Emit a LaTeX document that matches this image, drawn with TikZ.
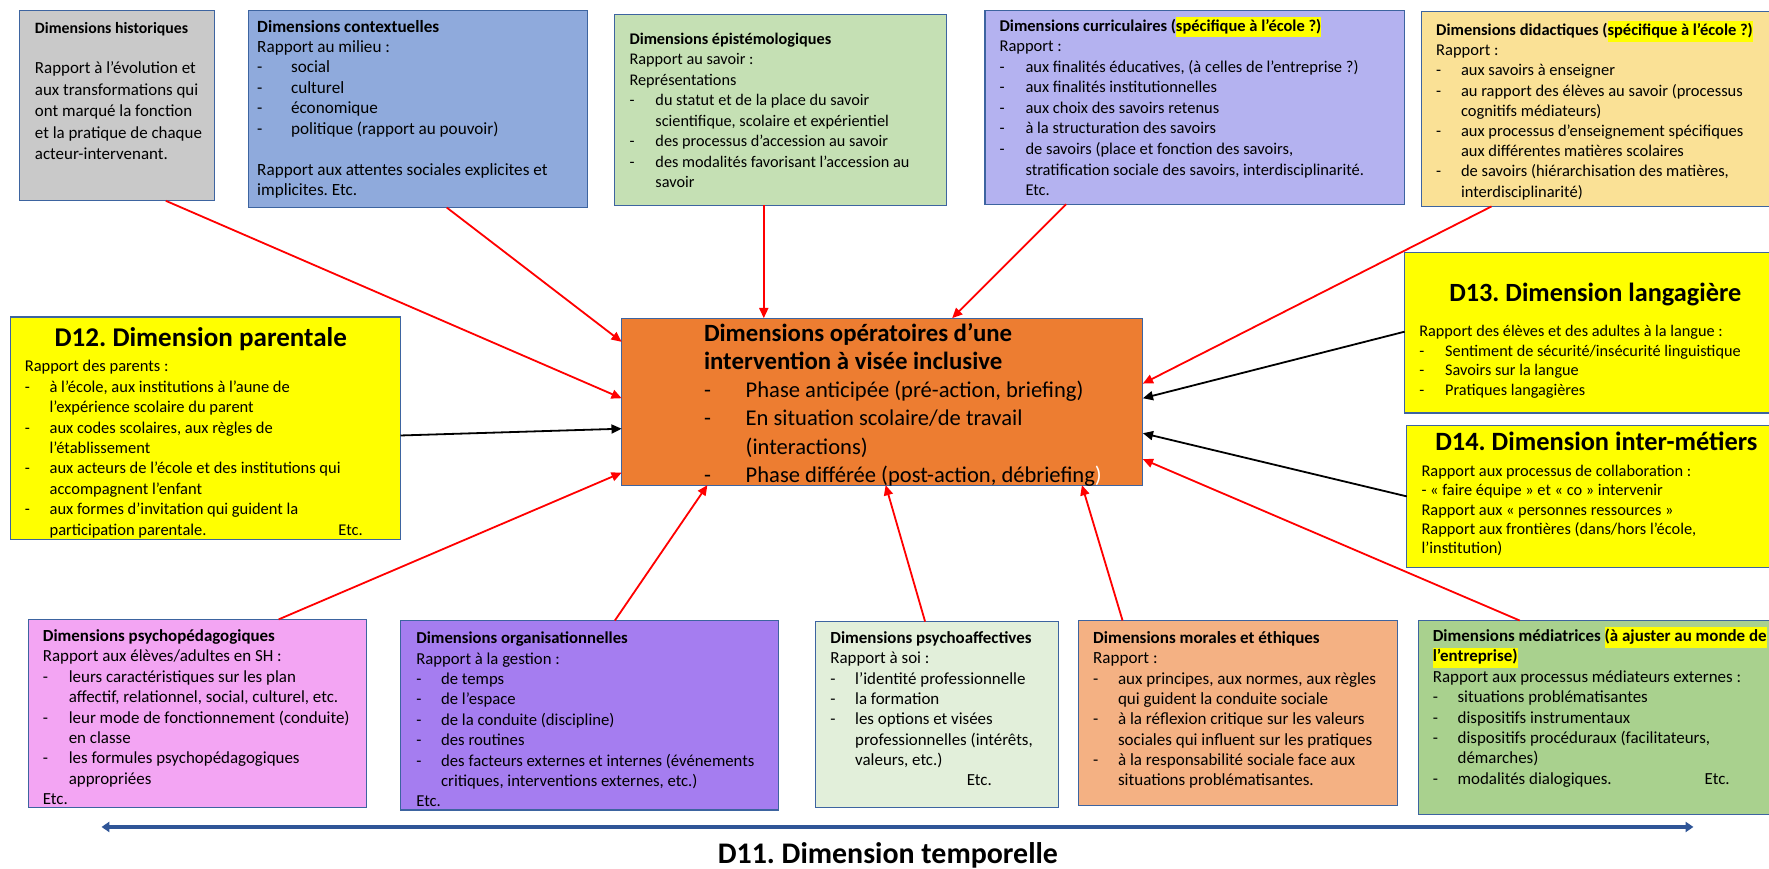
\documentclass[tikz,border=0pt]{standalone}
\usepackage{fontspec}
\setmainfont{Carlito}
\usetikzlibrary{arrows.meta,calc}
\frenchspacing

\definecolor{bordr}{RGB}{61,100,160}
\definecolor{cHist}{RGB}{201,201,201}
\definecolor{cCtx}{RGB}{143,170,220}
\definecolor{cEpi}{RGB}{197,224,180}
\definecolor{cCur}{RGB}{180,178,240}
\definecolor{cDid}{RGB}{250,225,150}
\definecolor{cYel}{RGB}{255,255,0}
\definecolor{cCtr}{RGB}{237,125,49}
\definecolor{cPsp}{RGB}{243,165,243}
\definecolor{cOrg}{RGB}{165,125,240}
\definecolor{cPaf}{RGB}{226,239,218}
\definecolor{cMor}{RGB}{244,177,131}
\definecolor{cMed}{RGB}{169,209,142}
\definecolor{cTime}{RGB}{47,85,151}
\definecolor{hly}{RGB}{255,255,0}

\newlength\dind
\newcommand\dItem{\makebox[\dind][l]{-}}
\newcommand\cItem{\hspace*{\dind}}
\newcommand\hiLite[1]{{\setlength{\fboxsep}{0pt}\colorbox{hly}{\strut #1}}}
\newcommand\fSz[2]{\fontsize{#1pt}{#2pt}\selectfont}

\begin{document}
\begin{tikzpicture}[x=1pt,y=-1pt,
  box/.style={draw=bordr, line width=1.1pt, anchor=north west, inner sep=0pt, outer sep=0pt},
  txt/.style={anchor=base west, inner sep=0pt, outer sep=0pt, text=black},
  ttl/.style={anchor=base, inner sep=0pt, outer sep=0pt},
  rarr/.style={draw=red, line width=1.6pt, -{Triangle[length=9pt,width=8pt]}},
  barr/.style={draw=black, line width=1.6pt, -{Triangle[length=9pt,width=8pt]}},
  tarr/.style={draw=cTime, line width=2.8pt, {Triangle[length=7pt,width=9pt]}-{Triangle[length=7pt,width=9pt]}},
]
\useasboundingbox (0,0) rectangle (1568,770);
\clip (0,0) rectangle (1568,770);

% ---- boxes ----
\node[box, fill=cHist, minimum width=173pt, minimum height=169pt] (hist) at (17,9) {};
\node[box, fill=cCtx, minimum width=301pt, minimum height=175pt] (ctx) at (220,9) {};
\node[box, fill=cEpi, minimum width=294pt, minimum height=169pt] (epi) at (545,13) {};
\node[box, fill=cCur, minimum width=372pt, minimum height=172pt] (cur) at (873,9) {};
\node[box, fill=cDid, minimum width=330pt, minimum height=173pt] (did) at (1260,10) {};
\node[box, fill=cYel, minimum width=346pt, minimum height=197pt] (par) at (9,281) {};
\node[box, fill=cCtr, minimum width=462pt, minimum height=148pt] (ctr) at (551,282) {};
\node[box, fill=cYel, minimum width=340pt, minimum height=142pt] (lan) at (1245,224) {};
\node[box, fill=cYel, minimum width=340pt, minimum height=126pt] (met) at (1247,377) {};
\node[box, fill=cPsp, minimum width=300pt, minimum height=167pt] (psp) at (25,549) {};
\node[box, fill=cOrg, minimum width=335pt, minimum height=168pt] (org) at (355,550) {};
\node[box, fill=cPaf, minimum width=215pt, minimum height=165pt] (paf) at (723,551) {};
\node[box, fill=cMor, minimum width=283pt, minimum height=164pt] (mor) at (956,550) {};
\node[box, fill=cMed, minimum width=330pt, minimum height=172pt] (med) at (1257,550) {};

% ---- texts ----
\node[txt] (histT) at (31,30) {\fSz{14}{17}\bfseries Dimensions historiques};
\node[txt] (histB) at (31,65.5) {\parbox[t]{200pt}{\fSz{15}{19}\raggedright
Rapport à l’évolution et\\aux transformations qui\\ont marqué la fonction\\et la pratique de chaque\\acteur-intervenant.}};

\node[txt] (ctxT) at (228,28.5) {\parbox[t]{300pt}{\fSz{15.2}{18.1}\setlength\dind{30pt}\raggedright
\textbf{Dimensions contextuelles}\\
Rapport au milieu :\\
\dItem social\\
\dItem culturel\\
\dItem économique\\
\dItem politique (rapport au pouvoir)\\[18.1pt]
Rapport aux attentes sociales explicites et\\
implicites. Etc.}};

\node[txt] (epiT) at (558,39.5) {\parbox[t]{300pt}{\fSz{14.4}{18.1}\setlength\dind{23pt}\raggedright
\textbf{Dimensions épistémologiques}\\
Rapport au savoir :\\
Représentations\\
\dItem du statut et de la place du savoir\\
\cItem scientifique, scolaire et expérientiel\\
\dItem des processus d’accession au savoir\\
\dItem des modalités favorisant l’accession au\\
\cItem savoir}};

\node[txt] (curT) at (886,27.5) {\parbox[t]{400pt}{\fSz{14.6}{18.25}\setlength\dind{23pt}\raggedright
\textbf{Dimensions curriculaires (\hiLite{spécifique à l’école ?)}}\\
Rapport :\\
\dItem aux finalités éducatives, (à celles de l’entreprise ?)\\
\dItem aux finalités institutionnelles\\
\dItem aux choix des savoirs retenus\\
\dItem à la structuration des savoirs\\
\dItem de savoirs (place et fonction des savoirs,\\
\cItem stratification sociale des savoirs, interdisciplinarité.\\
\cItem Etc.}};

\node[txt] (didT) at (1273,31.5) {\parbox[t]{400pt}{\fSz{14.6}{17.9}\setlength\dind{22pt}\raggedright
\textbf{Dimensions didactiques (\hiLite{spécifique à l’école ?)}}\\
Rapport :\\
\dItem aux savoirs à enseigner\\
\dItem au rapport des élèves au savoir (processus\\
\cItem cognitifs médiateurs)\\
\dItem aux processus d’enseignement spécifiques\\
\cItem aux différentes matières scolaires\\
\dItem de savoirs (hiérarchisation des matières,\\
\cItem interdisciplinarité)}};

\node[ttl] (parT) at (178,307.5) {\fSz{24}{28}\bfseries D12. Dimension parentale};
\node[txt] (parB) at (22,329.5) {\parbox[t]{400pt}{\fSz{14.6}{18.1}\setlength\dind{22pt}\raggedright
Rapport des parents :\\
\dItem à l’école, aux institutions à l’aune de\\
\cItem l’expérience scolaire du parent\\
\dItem aux codes scolaires, aux règles de\\
\cItem l’établissement\\
\dItem aux acteurs de l’école et des institutions qui\\
\cItem accompagnent l’enfant\\
\dItem aux formes d’invitation qui guident la\\
\cItem \makebox[256pt][l]{participation parentale.}Etc.}};

\node[txt] (ctrT) at (624,302.5) {\parbox[t]{400pt}{\fSz{20}{25}\setlength\dind{37pt}\raggedright
{\fSz{22}{25}\bfseries Dimensions opératoires d’une\\
intervention à visée inclusive}\\
\dItem Phase anticipée (pré-action, briefing)\\
\dItem En situation scolaire/de travail\\
\cItem (interactions)\\
\dItem Phase différée (post-action, débriefing\textcolor{white}{)}}};

\node[ttl] (lanT) at (1414,267.5) {\fSz{23.3}{28}\bfseries D13. Dimension langagière};
\node[txt] (lanB) at (1258,298.5) {\parbox[t]{400pt}{\fSz{14.4}{17.3}\setlength\dind{23pt}\raggedright
Rapport des élèves et des adultes à la langue :\\
\dItem Sentiment de sécurité/insécurité linguistique\\
\dItem Savoirs sur la langue\\
\dItem Pratiques langagières}};

\node[ttl] (metT) at (1415,399) {\fSz{23.4}{28}\bfseries D14. Dimension inter-métiers};
\node[txt] (metB) at (1260,422.5) {\parbox[t]{400pt}{\fSz{14.5}{17}\raggedright
Rapport aux processus de collaboration :\\
- « faire équipe » et « co » intervenir\\
Rapport aux « personnes ressources »\\
Rapport aux frontières (dans/hors l’école,\\
l’institution)}};

\node[txt] (pspT) at (38,568.5) {\parbox[t]{400pt}{\fSz{15}{18.1}\setlength\dind{23pt}\raggedright
\textbf{Dimensions psychopédagogiques}\\
Rapport aux élèves/adultes en SH :\\
\dItem leurs caractéristiques sur les plan\\
\cItem affectif, relationnel, social, culturel, etc.\\
\dItem leur mode de fonctionnement (conduite)\\
\cItem en classe\\
\dItem les formules psychopédagogiques\\
\cItem appropriées\\
Etc.}};

\node[txt] (orgT) at (369,570.5) {\parbox[t]{400pt}{\fSz{14.8}{18.1}\setlength\dind{22pt}\raggedright
\textbf{Dimensions organisationnelles}\\
Rapport à la gestion :\\
\dItem de temps\\
\dItem de l’espace\\
\dItem de la conduite (discipline)\\
\dItem des routines\\
\dItem des facteurs externes et internes (événements\\
\cItem critiques, interventions externes, etc.)\\
Etc.}};

\node[txt] (pafT) at (736,570.5) {\parbox[t]{400pt}{\fSz{15}{18}\setlength\dind{22pt}\raggedright
\textbf{Dimensions psychoaffectives}\\
Rapport à soi :\\
\dItem l’identité professionnelle\\
\dItem la formation\\
\dItem les options et visées\\
\cItem professionnelles (intérêts,\\
\cItem valeurs, etc.)\\
\hspace*{121pt}Etc.}};

\node[txt] (morT) at (969,570.5) {\parbox[t]{400pt}{\fSz{15.1}{18}\setlength\dind{22pt}\raggedright
\textbf{Dimensions morales et éthiques}\\
Rapport :\\
\dItem aux principes, aux normes, aux règles\\
\cItem qui guident la conduite sociale\\
\dItem à la réflexion critique sur les valeurs\\
\cItem sociales qui influent sur les pratiques\\
\dItem à la responsabilité sociale face aux\\
\cItem situations problématisantes.}};

\node[txt] (medT) at (1270,568.5) {\parbox[t]{400pt}{\fSz{15}{18.1}\setlength\dind{22pt}\raggedright
\textbf{Dimensions médiatrices \hiLite{(à ajuster au monde de}}\\
\textbf{\hiLite{l’entreprise)}}\\
Rapport aux processus médiateurs externes :\\
\dItem situations problématisantes\\
\dItem dispositifs instrumentaux\\
\dItem dispositifs procéduraux (facilitateurs,\\
\cItem démarches)\\
\dItem \makebox[219pt][l]{modalités dialogiques.}Etc.}};

% ---- connectors ----
\draw[rarr] ($(hist.south west)+(130,0)$) -- ($(ctr.north west)+(0,71)$);
\draw[rarr] ($(ctx.south west)+(176,0)$) -- ($(ctr.north west)+(0,21)$);
\draw[rarr] ($(epi.south west)+(132,0)$) -- ($(ctr.north west)+(126,0)$);
\draw[rarr] ($(cur.south west)+(72,0)$) -- ($(ctr.north west)+(293,0)$);
\draw[rarr] ($(did.south west)+(62,0)$) -- ($(ctr.north east)+(0,58)$);
\draw[barr] ($(lan.north west)+(0,70)$) -- ($(ctr.north east)+(0,71)$);
\draw[barr] ($(met.north west)+(0,63)$) -- ($(ctr.north east)+(0,102)$);
\draw[rarr] ($(med.north west)+(90,0)$) -- ($(ctr.north east)+(0,125)$);
\draw[barr] ($(par.north east)+(0,105)$) -- ($(ctr.north west)+(0,98)$);
\draw[rarr] ($(psp.north west)+(222,0)$) -- ($(ctr.north west)+(0,137)$);
\draw[rarr] ($(org.north west)+(190,0)$) -- ($(ctr.south west)+(76,0)$);
\draw[rarr] ($(paf.north west)+(97,0)$) -- ($(ctr.south west)+(234,0)$);
\draw[rarr] ($(mor.north west)+(39,0)$) -- ($(ctr.south west)+(408,0)$);

% ---- time axis ----
\coordinate (tL) at (90,733);
\coordinate (tR) at (1501,733);
\draw[tarr] (tL) -- (tR);
\node[ttl] (d11) at (787,765) {\fSz{26.5}{30}\bfseries D11. Dimension temporelle};
\end{tikzpicture}
\end{document}
